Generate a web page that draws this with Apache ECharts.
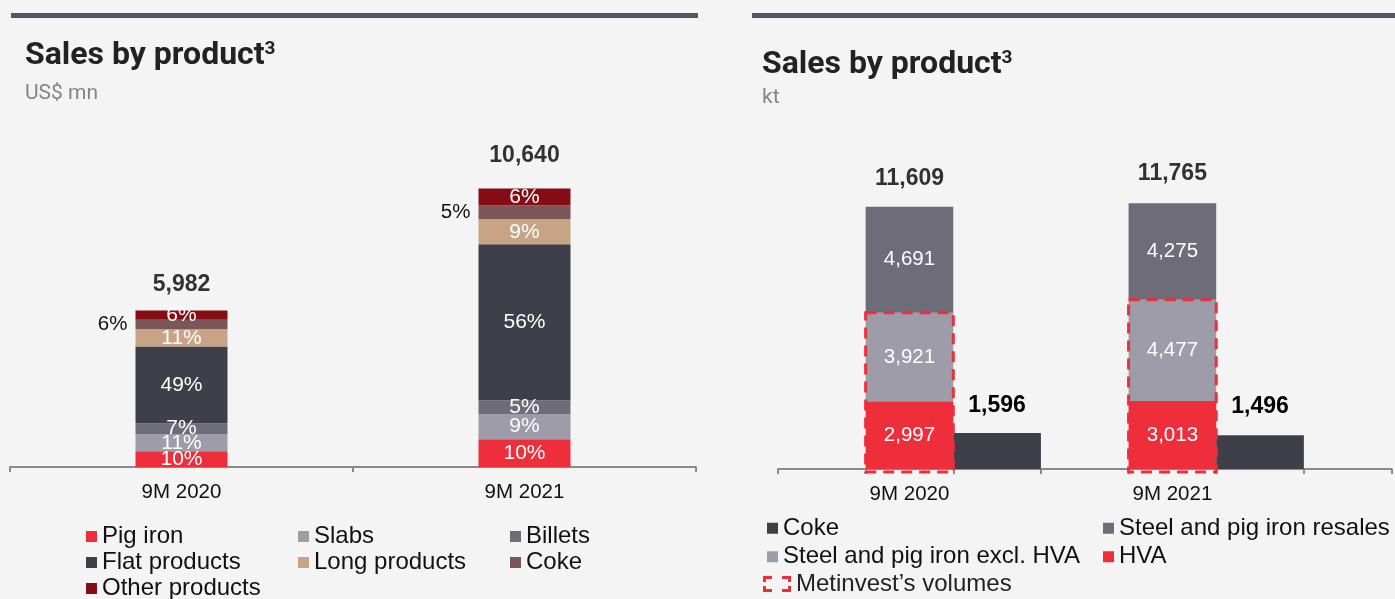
<!DOCTYPE html>
<html>
<head>
<meta charset="utf-8">
<script src="https://cdn.jsdelivr.net/npm/echarts@6/dist/echarts.min.js"></script>
<style>
  html, body { margin: 0; padding: 0; background: #F4F4F4; }
  #chart { width: 1395px; height: 599px; }
</style>
</head>
<body>
<div id="chart"></div>
<script>
// ---- Sales by product, US$ mn (left panel): share of each product in the total ----
const valueYears = ['9M 2020', '9M 2021'];
const valueTotals = [5982, 10640];
const productNames = ['Pig iron', 'Slabs', 'Billets', 'Flat products', 'Long products', 'Coke', 'Other products'];
const pctPigIron = [10, 10];
const pctSlabs = [11, 9];
const pctBillets = [7, 5];
const pctFlat = [49, 56];
const pctLong = [11, 9];
const pctCoke = [6, 5];
const pctOther = [6, 6];

// ---- Sales by product, kt (right panel) ----
const volumeYears = ['9M 2020', '9M 2021'];
const volHva = [2997, 3013];
const volExclHva = [3921, 4477];
const volResales = [4691, 4275];
const volCoke = [1596, 1496];
const volumeNames = ['HVA', 'Steel and pig iron excl. HVA', 'Steel and pig iron resales', 'Coke'];

const TEXT = 'Liberation Sans, Arial, sans-serif';
const TITLE = 'Roboto, sans-serif';
const RED = '#EE2E3B';

// Left panel: segment heights come from the stated shares of each total
const productPcts = [pctPigIron, pctSlabs, pctBillets, pctFlat, pctLong, pctCoke, pctOther];
const productColors = ['#EE2E3B', '#9D9CA8', '#6D6C78', '#3F3F4A', '#C8A486', '#7A5658', '#860C15'];

const leftSeries = productNames.map((name, k) => {
  const outside = name === 'Coke';
  return {
    type: 'bar', name, stack: 'value', xAxisIndex: 0, yAxisIndex: 0,
    barWidth: 92,
    itemStyle: { color: productColors[k] },
    data: valueTotals.map((t, i) => t * productPcts[k][i] / 100),
    label: {
      show: true,
      position: outside ? 'left' : 'inside',
      distance: 8,
      color: outside ? '#111' : '#fff',
      fontFamily: TEXT, fontSize: outside ? 20.5 : 21,
      formatter: p => productPcts[k][p.dataIndex] + '%'
    }
  };
});

leftSeries.push({
  type: 'scatter', name: 'valueTotal', xAxisIndex: 0, yAxisIndex: 0,
  symbolSize: 1, itemStyle: { color: 'transparent' }, silent: true,
  data: valueTotals.map((v, i) => ({ value: [i, v], label: { distance: [14, 21][i] } })),
  label: {
    show: true, position: 'top', color: '#000', fontFamily: TEXT, fontSize: 23, fontWeight: 'bold',
    formatter: p => p.value[1].toLocaleString('en-US')
  },
  z: 5
});

// Right panel: seven equal slots, stacked bar then coke bar for each period
const SLOTS = 7;
const STACK_SLOT = [1, 4];
const COKE_SLOT = [2, 5];
function place(values, slots) {
  const out = new Array(SLOTS).fill('-');
  values.forEach((v, i) => { out[slots[i]] = v; });
  return out;
}
const volCategories = place(volumeYears, STACK_SLOT).map(c => (c === '-' ? '' : c));

const volumeArrays = [volHva, volExclHva, volResales];
const volumeColors = ['#EE2E3B', '#9D9CA8', '#6D6C78'];
const fmt = v => v.toLocaleString('en-US');

const rightSeries = volumeArrays.map((arr, k) => ({
  type: 'bar', name: volumeNames[k], stack: 'volume', xAxisIndex: 1, yAxisIndex: 1,
  barCategoryGap: '0%',
  itemStyle: { color: volumeColors[k] },
  data: place(arr, STACK_SLOT),
  label: {
    show: true, position: 'inside', color: '#fff', fontFamily: TEXT, fontSize: 20.5,
    formatter: p => fmt(p.value)
  }
}));

rightSeries.push({
  type: 'bar', name: 'Coke', id: 'cokeVolume', stack: 'volume', xAxisIndex: 1, yAxisIndex: 1,
  barCategoryGap: '0%',
  itemStyle: { color: '#3F3F4A' },
  data: place(volCoke, COKE_SLOT).map((v, i) => (v === '-' ? v : { value: v, label: { distance: [0, 0, 16, 0, 0, 17, 0][i] } })),
  label: {
    show: true, position: 'top', color: '#000', fontFamily: TEXT, fontSize: 23, fontWeight: 'bold',
    formatter: p => fmt(p.value)
  }
});

const volTotals = volumeYears.map((_, i) => volHva[i] + volExclHva[i] + volResales[i]);
rightSeries.push({
  type: 'scatter', name: 'volumeTotal', xAxisIndex: 1, yAxisIndex: 1,
  symbolSize: 1, itemStyle: { color: 'transparent' }, silent: true,
  data: volTotals.map((v, i) => ({ value: [STACK_SLOT[i], v], label: { distance: [16, 18][i] } })),
  label: {
    show: true, position: 'top', color: '#000', fontFamily: TEXT, fontSize: 23, fontWeight: 'bold',
    formatter: p => fmt(p.value[1])
  },
  z: 5
});

// Dashed frame around the company's own volumes (HVA + steel and pig iron excl. HVA)
rightSeries.push({
  type: 'custom', name: 'Metinvest\u2019s volumes', xAxisIndex: 1, yAxisIndex: 1,
  itemStyle: { color: RED },
  data: STACK_SLOT.map((s, i) => [s, volHva[i] + volExclHva[i]]),
  renderItem: (params, api) => {
    const slot = api.value(0);
    const top = api.coord([slot, api.value(1)]);
    const base = api.coord([slot, 0]);
    const w = api.size([1, 0])[0];
    return {
      type: 'rect',
      shape: { x: top[0] - w / 2, y: top[1], width: w, height: base[1] - top[1] + 3 },
      style: { fill: 'none', stroke: RED, lineWidth: 3, lineDash: [11, 7] },
      z2: 20
    };
  },
  z: 10
});

const legendText = { fontFamily: TEXT, fontSize: 24, color: '#111' };
function legendCol(items, left, top, lineHeight) {
  return {
    orient: 'vertical', left, top, height: 90, padding: 0, data: items, icon: 'rect',
    itemWidth: 11, itemHeight: 11, itemGap: 0, selectedMode: false,
    textStyle: Object.assign({ lineHeight }, legendText)
  };
}
const cokeLeftItem = { name: 'Coke', itemStyle: { color: '#7A5658' } };
const cokeRightItem = { name: 'Coke', itemStyle: { color: '#3F3F4A' } };
const bracketIcon = 'path://M0,0H9V3H3V6H0Z M19,0H28V6H25V3H19Z M0,10H3V13H9V16H0Z M25,10H28V16H19V13H25Z';

const axisLine = { lineStyle: { color: '#8A8A8A', width: 2 } };
const axisTick = { show: true, length: 5, lineStyle: { color: '#8A8A8A', width: 2 } };

function panelTitle(left, top, sub, gap) {
  return {
    left, top, padding: 0, itemGap: gap,
    text: '{t|Sales by product}{s|3}',
    subtext: sub,
    textStyle: { rich: {
      t: { fontFamily: TITLE, fontWeight: 'bold', fontSize: 32, color: '#222' },
      s: { fontFamily: TITLE, fontWeight: 'bold', fontSize: 19, color: '#222', verticalAlign: 'top' }
    } },
    subtextStyle: { fontFamily: TITLE, fontSize: 21, color: '#858585' }
  };
}

const option = {
  backgroundColor: '#F4F4F4',
  animation: false,
  title: [
    panelTitle(25, 40, 'US$ mn', 11),
    panelTitle(762, 49, 'kt', 6)
  ],
  graphic: [
    { type: 'rect', left: 11, top: 13, shape: { width: 687, height: 5 }, style: { fill: '#55555F' }, silent: true },
    { type: 'rect', left: 752, top: 13, shape: { width: 643, height: 5 }, style: { fill: '#55555F' }, silent: true }
  ],
  legend: [
    legendCol(['Pig iron', 'Flat products', 'Other products'], 86, 523.5, 26),
    legendCol(['Slabs', 'Long products'], 298, 523.5, 26),
    legendCol(['Billets', cokeLeftItem], 510, 523.5, 26),
    legendCol([cokeRightItem, 'Steel and pig iron excl. HVA'], 767, 514, 28.5),
    legendCol(['Steel and pig iron resales', 'HVA'], 1103, 514, 28.5),
    {
      orient: 'vertical', left: 763, top: 571, height: 40, padding: 0, selectedMode: false,
      data: [{ name: 'Metinvest\u2019s volumes', icon: bracketIcon, itemStyle: { color: RED } }],
      itemWidth: 28, itemHeight: 16,
      textStyle: Object.assign({ lineHeight: 26 }, legendText, { color: '#222' })
    }
  ],
  grid: [
    { left: 10, right: 699, top: 153, height: 314 },
    { left: 778, right: 3.5, top: 198, height: 271 }
  ],
  xAxis: [
    {
      type: 'category', gridIndex: 0, data: valueYears,
      axisLine, axisTick,
      axisLabel: { margin: 15, color: '#111', fontFamily: TEXT, fontSize: 20.5 }
    },
    {
      type: 'category', gridIndex: 1, data: volCategories,
      axisLine, axisTick: Object.assign({ interval: 0 }, axisTick),
      axisLabel: { interval: 0, margin: 15, color: '#111', fontFamily: TEXT, fontSize: 20.5 }
    }
  ],
  yAxis: [
    { type: 'value', gridIndex: 0, min: 0, max: 12000, show: false },
    { type: 'value', gridIndex: 1, min: 0, max: 12000, show: false }
  ],
  series: leftSeries.concat(rightSeries)
};

const chart = echarts.init(document.getElementById('chart'));
chart.setOption(option);
</script>
</body>
</html>
